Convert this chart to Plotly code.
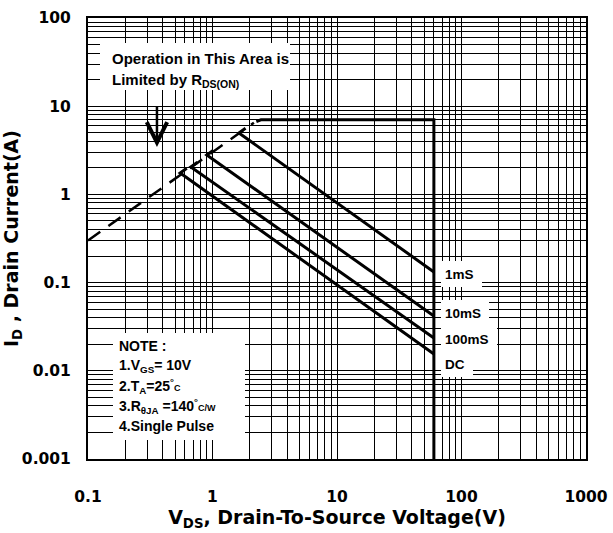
import math
import plotly.graph_objects as go

# ---- data ----
x_ticks = [0.1, 1, 10, 100, 1000]
x_tick_text = ["0.1", "1", "10", "100", "1000"]
y_ticks = [0.001, 0.01, 0.1, 1, 10, 100]
y_tick_text = ["0.001", "0.01", "0.1", "1", "10", "100"]

rds_v = [0.1, 2.15]          # R_DS(on) limit (dashed)
rds_i = [0.30, 6.5]

env_v = [2.25, 2.45, 60, 60]  # current limit + BV_DSS limit
env_i = [6.7, 7.0, 7.0, 0.001]

pulse_names = ["1mS", "10mS", "100mS", "DC"]
pulse_start_v = [1.63, 0.90, 0.67, 0.55]
pulse_start_i = [4.97, 2.80, 2.05, 1.75]
pulse_end_v = [60, 60, 60, 60]
pulse_end_i = [0.132, 0.0418, 0.0236, 0.0155]

arrow_v = 0.358
arrow_i_top = 10.3
arrow_i_bot = 3.45

note_lines = [
    "NOTE :",
    "1.V<sub>GS</sub>= 10V",
    "2.T<sub>A</sub>=25<sup>°</sup><span style='font-size:9px'>C</span>",
    "3.R<sub>θJA</sub> =140<sup>°</sup><span style='font-size:9px'>C/W</span>",
    "4.Single Pulse",
]

FONT = "Liberation Sans, Arial, sans-serif"
AXFONT = "DejaVu Sans, sans-serif"
W, H = 613, 533
L, R, T, B = 88, 27, 18, 74
PW, PH = W - L - R, H - T - B

def px(xp):
    return (xp - L) / PW

def py(yp):
    return 1 - (yp - T) / PH

fig = go.Figure()

# R_DS(on) dashed limit
fig.add_trace(go.Scatter(x=rds_v, y=rds_i, mode="lines",
                         line=dict(color="black", width=2.5, dash="15px,10px"),
                         hoverinfo="skip", showlegend=False))
# envelope
fig.add_trace(go.Scatter(x=env_v, y=env_i, mode="lines",
                         line=dict(color="black", width=3),
                         hoverinfo="skip", showlegend=False))
# pulse lines with small start cap along the R_DS(on) direction
k = 1.13
for sv, si, ev, ei in zip(pulse_start_v, pulse_start_i, pulse_end_v, pulse_end_i):
    fig.add_trace(go.Scatter(x=[sv * k, sv, ev], y=[si * k, si, ei], mode="lines",
                             line=dict(color="black", width=3),
                             hoverinfo="skip", showlegend=False))

# arrow
fig.add_annotation(x=math.log10(arrow_v), y=math.log10(arrow_i_bot),
                   ax=math.log10(arrow_v), ay=math.log10(arrow_i_top),
                   xref="x", yref="y", axref="x", ayref="y", text="",
                   showarrow=True, arrowhead=5, arrowsize=1.6, arrowwidth=2.5, arrowcolor="black")

# white boxes hiding the grid
shapes = [
    dict(type="rect", xref="paper", yref="paper", x0=px(100), x1=px(290), y0=py(90), y1=py(43),
         fillcolor="white", line=dict(width=0), layer="above"),
    dict(type="rect", xref="paper", yref="paper", x0=px(113), x1=px(245), y0=py(440), y1=py(333),
         fillcolor="white", line=dict(width=0), layer="above"),
]
label_y = [274, 313, 339, 364]
label_w = [35, 42, 50, 26]
for ly, lw in zip(label_y, label_w):
    shapes.append(dict(type="rect", xref="paper", yref="paper", x0=px(441), x1=px(441 + lw + 6),
                       y0=py(ly + 13), y1=py(ly - 13), fillcolor="white", line=dict(width=0),
                       layer="above"))
fig.update_layout(shapes=shapes)

# texts
fig.add_annotation(xref="paper", yref="paper", x=px(110), y=py(59), xanchor="left", yanchor="middle",
                   text="Operation in This Area is", showarrow=False,
                   font=dict(family=FONT, size=15, color="black", weight="bold"))
fig.add_annotation(xref="paper", yref="paper", x=px(110), y=py(80), xanchor="left", yanchor="middle",
                   text="Limited by R<sub>DS(ON)</sub>", showarrow=False,
                   font=dict(family=FONT, size=15, color="black", weight="bold"))
for i, t in enumerate(note_lines):
    fig.add_annotation(xref="paper", yref="paper", x=px(117), y=py(346 + 20 * i), xanchor="left",
                       yanchor="middle", text=t, showarrow=False,
                       font=dict(family=FONT, size=14, color="black", weight="bold"))
for name, ly in zip(pulse_names, label_y):
    fig.add_annotation(xref="paper", yref="paper", x=px(443), y=py(ly), xanchor="left",
                       yanchor="middle", text=name, showarrow=False,
                       font=dict(family=FONT, size=13.5, color="black", weight="bold"))

axis_common = dict(
    type="log", showgrid=True, gridcolor="black", gridwidth=1,
    showline=True, linecolor="black", linewidth=2, mirror=True,
    ticks="outside", tickcolor="rgba(0,0,0,0)",
    tickfont=dict(family=AXFONT, size=15.5, color="black", weight="bold"),
    zeroline=False,
)
x_minor = [m * 10 ** e for e in range(-1, 3) for m in range(2, 10)]
y_minor = [m * 10 ** e for e in range(-3, 2) for m in range(2, 10)]

fig.update_xaxes(**axis_common, range=[-1, 3], tickvals=x_ticks, ticktext=x_tick_text, ticklen=22,
                 minor=dict(tickvals=x_minor, showgrid=True, gridcolor="black", gridwidth=1, ticks=""),
                 title=dict(text="V<sub>DS</sub>, Drain-To-Source Voltage(V)", standoff=4,
                            font=dict(family=AXFONT, size=19, color="black", weight="bold")))
fig.update_yaxes(**axis_common, range=[-3, 2], tickvals=y_ticks, ticktext=y_tick_text, ticklen=12,
                 minor=dict(tickvals=y_minor, showgrid=True, gridcolor="black", gridwidth=1, ticks=""),
                 title=dict(text="I<sub>D</sub> , Drain Current(A)", standoff=0,
                            font=dict(family=AXFONT, size=19, color="black", weight="bold")))

fig.update_layout(width=W, height=H, margin=dict(l=L, r=R, t=T, b=B, autoexpand=False),
                  paper_bgcolor="white", plot_bgcolor="white", showlegend=False)

fig.write_html("out.html")
